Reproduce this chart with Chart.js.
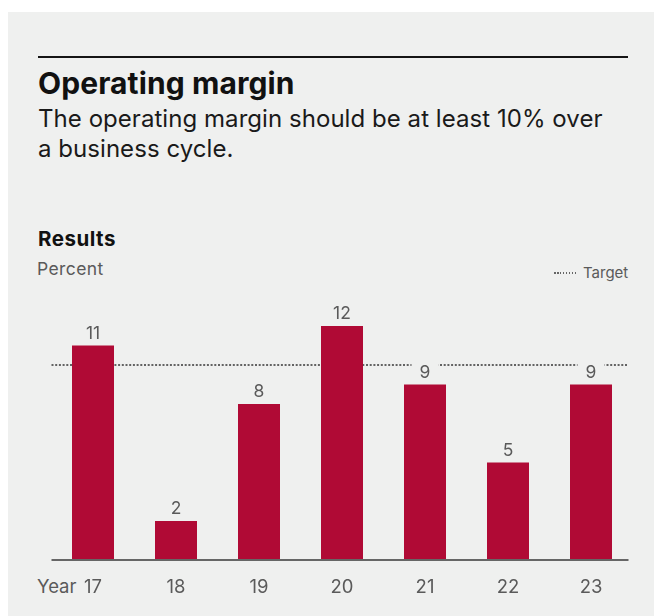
<!DOCTYPE html>
<html>
<head>
<meta charset="utf-8">
<script src="https://cdn.jsdelivr.net/npm/chart.js@4/dist/chart.umd.min.js"></script>
<style>
  body { margin: 0; background: #fff; font-family: Inter, "Liberation Sans", sans-serif; }
  #wrap { position: relative; width: 654px; height: 616px; overflow: hidden; }
  #panel { position: absolute; left: 8px; top: 12px; right: 0; bottom: 0; background: #eff0ef; }
  #rule { position: absolute; left: 38px; top: 56px; width: 590px; height: 2px; background: #151515; }
  .txt { position: absolute; white-space: nowrap; line-height: 1; }
  #title { left: 38px; top: 68px; font-size: 30px; font-weight: 700; color: #111; letter-spacing: 0.1px; }
  #sub { left: 38px; top: 104px; font-size: 24px; line-height: 30px; color: #1a1a1a; letter-spacing: 0.05px; }
  #results { left: 38px; top: 229px; font-size: 20.5px; font-weight: 700; color: #111; letter-spacing: 0.5px; }
  #percent { left: 37px; top: 260px; font-size: 17.5px; color: #5a5a5a; letter-spacing: 0.4px; }
  #target { left: 583px; top: 265px; font-size: 15px; color: #5a5a5a; }
  #targetLine { position: absolute; left: 554px; top: 272px; width: 23px; height: 1.5px;
    background: repeating-linear-gradient(to right, #666 0 1.5px, transparent 1.5px 3px); }
  #year { left: 37px; top: 577px; font-size: 18.5px; color: #5a5a5a; }
  canvas { position: absolute; left: 0; top: 0; }
</style>
</head>
<body>
<div id="wrap">
  <div id="panel"></div>
  <div id="rule"></div>
  <div class="txt" id="title">Operating margin</div>
  <div class="txt" id="sub">The operating margin should be at least 10% over<br>a business cycle.</div>
  <div class="txt" id="results">Results</div>
  <div class="txt" id="percent">Percent</div>
  <div id="targetLine"></div>
  <div class="txt" id="target">Target</div>
  <div class="txt" id="year">Year</div>
  <canvas id="myChart" width="654" height="616"></canvas>
</div>
<script>
const years = ['17', '18', '19', '20', '21', '22', '23'];
const margin = [11, 2, 8, 12, 9, 5, 9];
const target = 10;

const panelColor = '#eff0ef';
const textGray = '#5a5a5a';

// dotted target line, drawn under the bars
const targetLinePlugin = {
    id: 'targetLine',
    beforeDatasetsDraw(chart) {
        const ctx = chart.ctx;
        const area = chart.chartArea;
        const y = Math.round(chart.scales.y.getPixelForValue(target));
        ctx.save();
        ctx.strokeStyle = '#636363';
        ctx.lineWidth = 2;
        ctx.setLineDash([2, 1.7]);
        ctx.beginPath();
        ctx.moveTo(area.left, y);
        ctx.lineTo(area.right - 4, y);
        ctx.stroke();
        ctx.restore();
    }
};

// baseline + value labels above bars
const labelsPlugin = {
    id: 'valueLabels',
    afterDatasetsDraw(chart) {
        const ctx = chart.ctx;
        const area = chart.chartArea;
        const y0 = chart.scales.y.getPixelForValue(0);
        ctx.save();
        ctx.strokeStyle = '#666';
        ctx.lineWidth = 2;
        ctx.beginPath();
        ctx.moveTo(area.left, y0);
        ctx.lineTo(area.right - 4, y0);
        ctx.stroke();

        ctx.font = '17.5px Inter, "Liberation Sans", sans-serif';
        ctx.textAlign = 'center';
        ctx.textBaseline = 'alphabetic';
        chart.getDatasetMeta(0).data.forEach(function(bar, i) {
            ctx.fillStyle = panelColor;
            ctx.fillRect(bar.x - 13.5, bar.y - 26, 27, 25);
            ctx.fillStyle = textGray;
            ctx.fillText(String(margin[i]), bar.x, bar.y - 7);
        });
        ctx.restore();
    }
};

const ctx = document.getElementById('myChart').getContext('2d');
new Chart(ctx, {
    type: 'bar',
    data: {
        labels: years,
        datasets: [{
            label: 'Operating margin',
            data: margin,
            backgroundColor: '#b00a35',
            borderWidth: 0,
            barPercentage: 0.506,
            categoryPercentage: 1
        }]
    },
    options: {
        responsive: false,
        animation: false,
        layout: {
            padding: { left: 51.5, right: 21.5, top: 287, bottom: 0 }
        },
        plugins: {
            legend: { display: false },
            tooltip: { enabled: false }
        },
        scales: {
            x: {
                grid: { display: false, drawTicks: false },
                border: { display: false },
                ticks: {
                    color: textGray,
                    font: { family: 'Inter, "Liberation Sans", sans-serif', size: 18.5 },
                    padding: 16,
                    maxRotation: 0
                },
                afterFit: function(scale) { scale.height = 56; }
            },
            y: {
                display: false,
                min: 0,
                max: 14
            }
        }
    },
    plugins: [targetLinePlugin, labelsPlugin]
});
</script>
</body>
</html>
